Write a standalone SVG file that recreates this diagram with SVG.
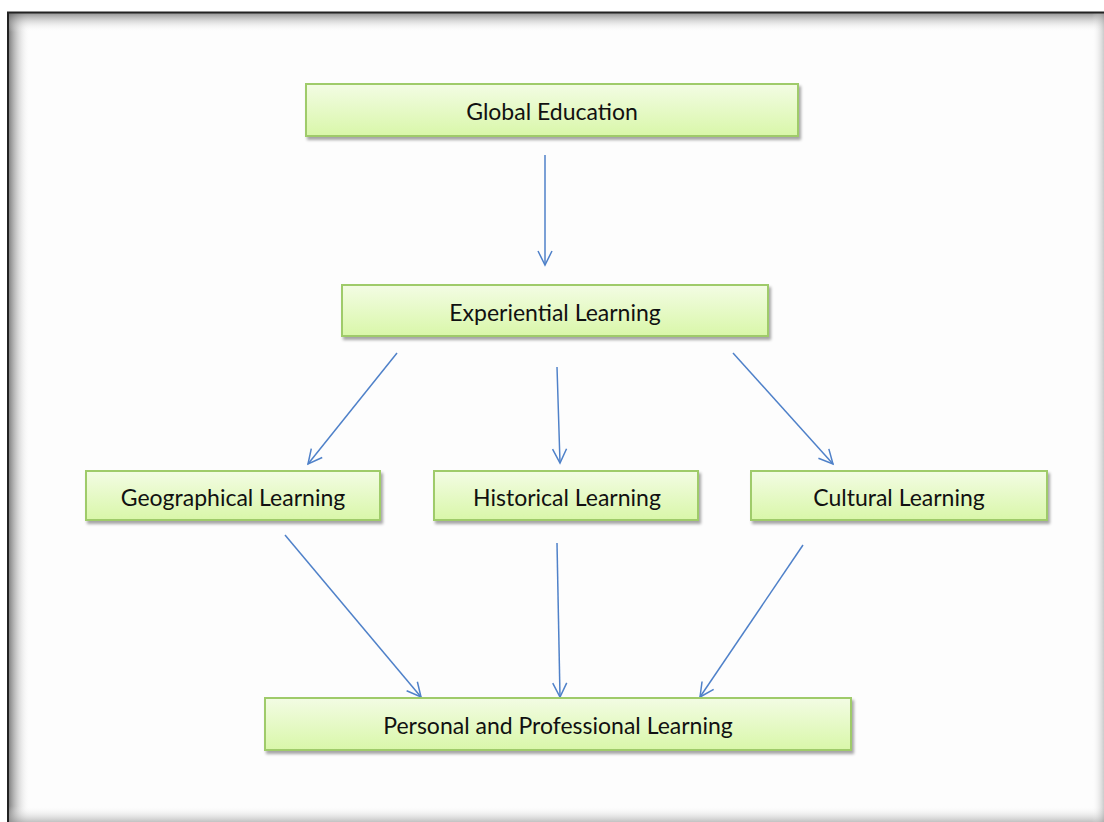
<svg xmlns="http://www.w3.org/2000/svg" width="1104" height="822" viewBox="0 0 1104 822">
<defs>
<linearGradient id="g" x1="0" y1="0" x2="0" y2="1">
<stop offset="0" stop-color="#f3fce4"/>
<stop offset="1" stop-color="#d9f7a9"/>
</linearGradient>
<linearGradient id="shL" x1="0" y1="0" x2="1" y2="0">
<stop offset="0" stop-color="#555" stop-opacity="0.8"/>
<stop offset="1" stop-color="#fff" stop-opacity="0"/>
</linearGradient>
<linearGradient id="shT" x1="0" y1="0" x2="0" y2="1">
<stop offset="0" stop-color="#555" stop-opacity="0.7"/>
<stop offset="1" stop-color="#fff" stop-opacity="0"/>
</linearGradient>
<linearGradient id="shB" x1="0" y1="1" x2="0" y2="0">
<stop offset="0" stop-color="#999" stop-opacity="0.6"/>
<stop offset="1" stop-color="#fff" stop-opacity="0"/>
</linearGradient>
<linearGradient id="shR" x1="1" y1="0" x2="0" y2="0">
<stop offset="0" stop-color="#999" stop-opacity="0.5"/>
<stop offset="1" stop-color="#fff" stop-opacity="0"/>
</linearGradient>
<filter id="ds" x="-5%" y="-20%" width="110%" height="150%">
<feDropShadow dx="2" dy="3" stdDeviation="1.5" flood-color="#000" flood-opacity="0.35"/>
</filter>
<marker id="ah" viewBox="0 0 20 20" refX="17" refY="10" markerWidth="20" markerHeight="20" markerUnits="userSpaceOnUse" orient="auto">
<path d="M3,3 L17,10 L3,17" fill="none" stroke="#4f81c9" stroke-width="1.5"/>
</marker>
<style>
.box{fill:url(#g);stroke:#9fcb6a;stroke-width:2;filter:url(#ds)}
.lbl{font-family:Lato,"Open Sans","Liberation Sans",sans-serif;font-size:23px;fill:#111;text-anchor:middle;dominant-baseline:central}
.cn{stroke:#4f81c9;stroke-width:1.5;fill:none;marker-end:url(#ah)}
</style>
</defs>
<rect x="0" y="0" width="1104" height="822" fill="#fff"/>
<g id="frame">
<rect x="8" y="12" width="1100" height="815" fill="#fdfdfd"/>
<rect x="8" y="12" width="22" height="815" fill="url(#shL)"/>
<rect x="8" y="12" width="1100" height="20" fill="url(#shT)"/>
<rect x="8" y="806" width="1100" height="16" fill="url(#shB)"/>
<rect x="1092" y="12" width="12" height="815" fill="url(#shR)"/>
<path d="M8,822 L8,12.5 L1104,12.5" fill="none" stroke="#222" stroke-width="2"/>
</g>
<g id="connectors">
<line class="cn" x1="545" y1="155" x2="545" y2="265"/>
<line class="cn" x1="397" y1="353" x2="308" y2="464"/>
<line class="cn" x1="557" y1="367" x2="560" y2="463"/>
<line class="cn" x1="733" y1="353" x2="833" y2="464"/>
<line class="cn" x1="285" y1="535" x2="421" y2="697"/>
<line class="cn" x1="557" y1="543" x2="560" y2="697"/>
<line class="cn" x1="803" y1="545" x2="700" y2="697"/>
</g>
<g id="global-education">
<rect class="box" x="306" y="84" width="492" height="52"/>
<text class="lbl" x="552" y="111">Global Education</text>
</g>
<g id="experiential-learning">
<rect class="box" x="342" y="285" width="426" height="51"/>
<text class="lbl" x="555" y="312">Experiential Learning</text>
</g>
<g id="geographical-learning">
<rect class="box" x="86" y="471" width="294" height="49"/>
<text class="lbl" x="233" y="497">Geographical Learning</text>
</g>
<g id="historical-learning">
<rect class="box" x="434" y="471" width="264" height="49"/>
<text class="lbl" x="567" y="497">Historical Learning</text>
</g>
<g id="cultural-learning">
<rect class="box" x="751" y="471" width="296" height="49"/>
<text class="lbl" x="899" y="497">Cultural Learning</text>
</g>
<g id="personal-professional-learning">
<rect class="box" x="265" y="698" width="586" height="52"/>
<text class="lbl" x="558" y="725">Personal and Professional Learning</text>
</g>
</svg>
